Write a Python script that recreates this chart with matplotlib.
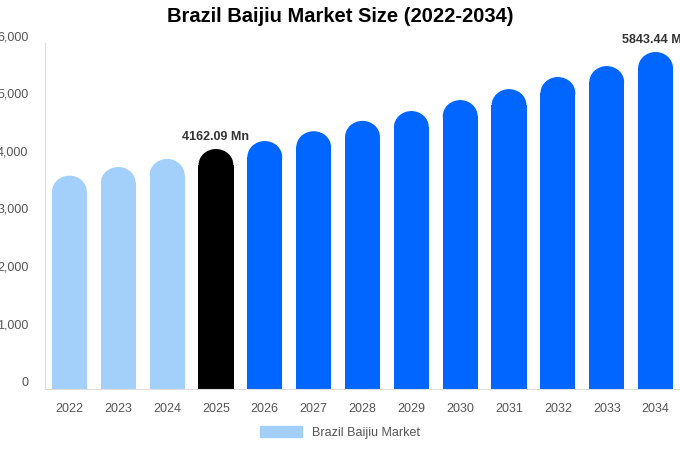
import matplotlib.pyplot as plt
from matplotlib.patches import Ellipse, Patch

plt.rcParams['font.family'] = ['Liberation Sans', 'DejaVu Sans']

years = ['2022', '2023', '2024', '2025', '2026', '2027', '2028',
         '2029', '2030', '2031', '2032', '2033', '2034']
values = [3700, 3850, 3990, 4162.09, 4300, 4470, 4650,
          4820, 5010, 5200, 5410, 5600, 5843.44]
colors = ['#a3cffb'] * 3 + ['#000000'] + ['#0066ff'] * 9

fig = plt.figure(figsize=(6.8, 4.5), dpi=100)
ax = fig.add_axes([45/680, 1 - 389/450, 635/680, 346/450])

w = 0.72
ymax = 6000
# cap radius in data units (about 16 px tall)
r = 16 / 346 * ymax
for i, (v, c) in enumerate(zip(values, colors)):
    ax.bar(i, v - r, width=w, color=c, lw=0)
    ax.add_patch(Ellipse((i, v - r), w * 0.99, 2 * r, color=c, lw=0))

ax.set_xlim(-0.5, len(years) - 0.5)
ax.set_ylim(0, ymax)
ax.set_xticks(range(len(years)))
ax.set_xticklabels(years)
ax.set_yticks(range(0, 6001, 1000))
ax.set_yticklabels([f'{t:,}' for t in range(0, 6001, 1000)])
ax.tick_params(colors='#555555', labelsize=9, length=0)
ax.tick_params(axis='y', pad=12)
ax.tick_params(axis='x', pad=10)
for t in ax.get_yticklabels():
    t.set_verticalalignment('bottom')
for s in ['top', 'right']:
    ax.spines[s].set_visible(False)
for s in ['left', 'bottom']:
    ax.spines[s].set_color('#dddddd')

ax.text(3, values[3] + 160, '4162.09 Mn', ha='center', fontsize=9,
        fontweight='bold', color='#333333')
ax.text(12, values[12] + 160, '5843.44 Mn', ha='center', fontsize=9,
        fontweight='bold', color='#333333', clip_on=False)

fig.suptitle('Brazil Baijiu Market Size (2022-2034)', fontsize=14.5,
             fontweight='bold', y=0.985)
fig.legend(handles=[Patch(color='#a3cffb', label='Brazil Baijiu Market')],
           loc='lower center', bbox_to_anchor=(0.5, 0.0), frameon=False,
           fontsize=9, handlelength=3.3, handleheight=1.0,
           labelcolor='#555555')

fig.savefig('out.png')
